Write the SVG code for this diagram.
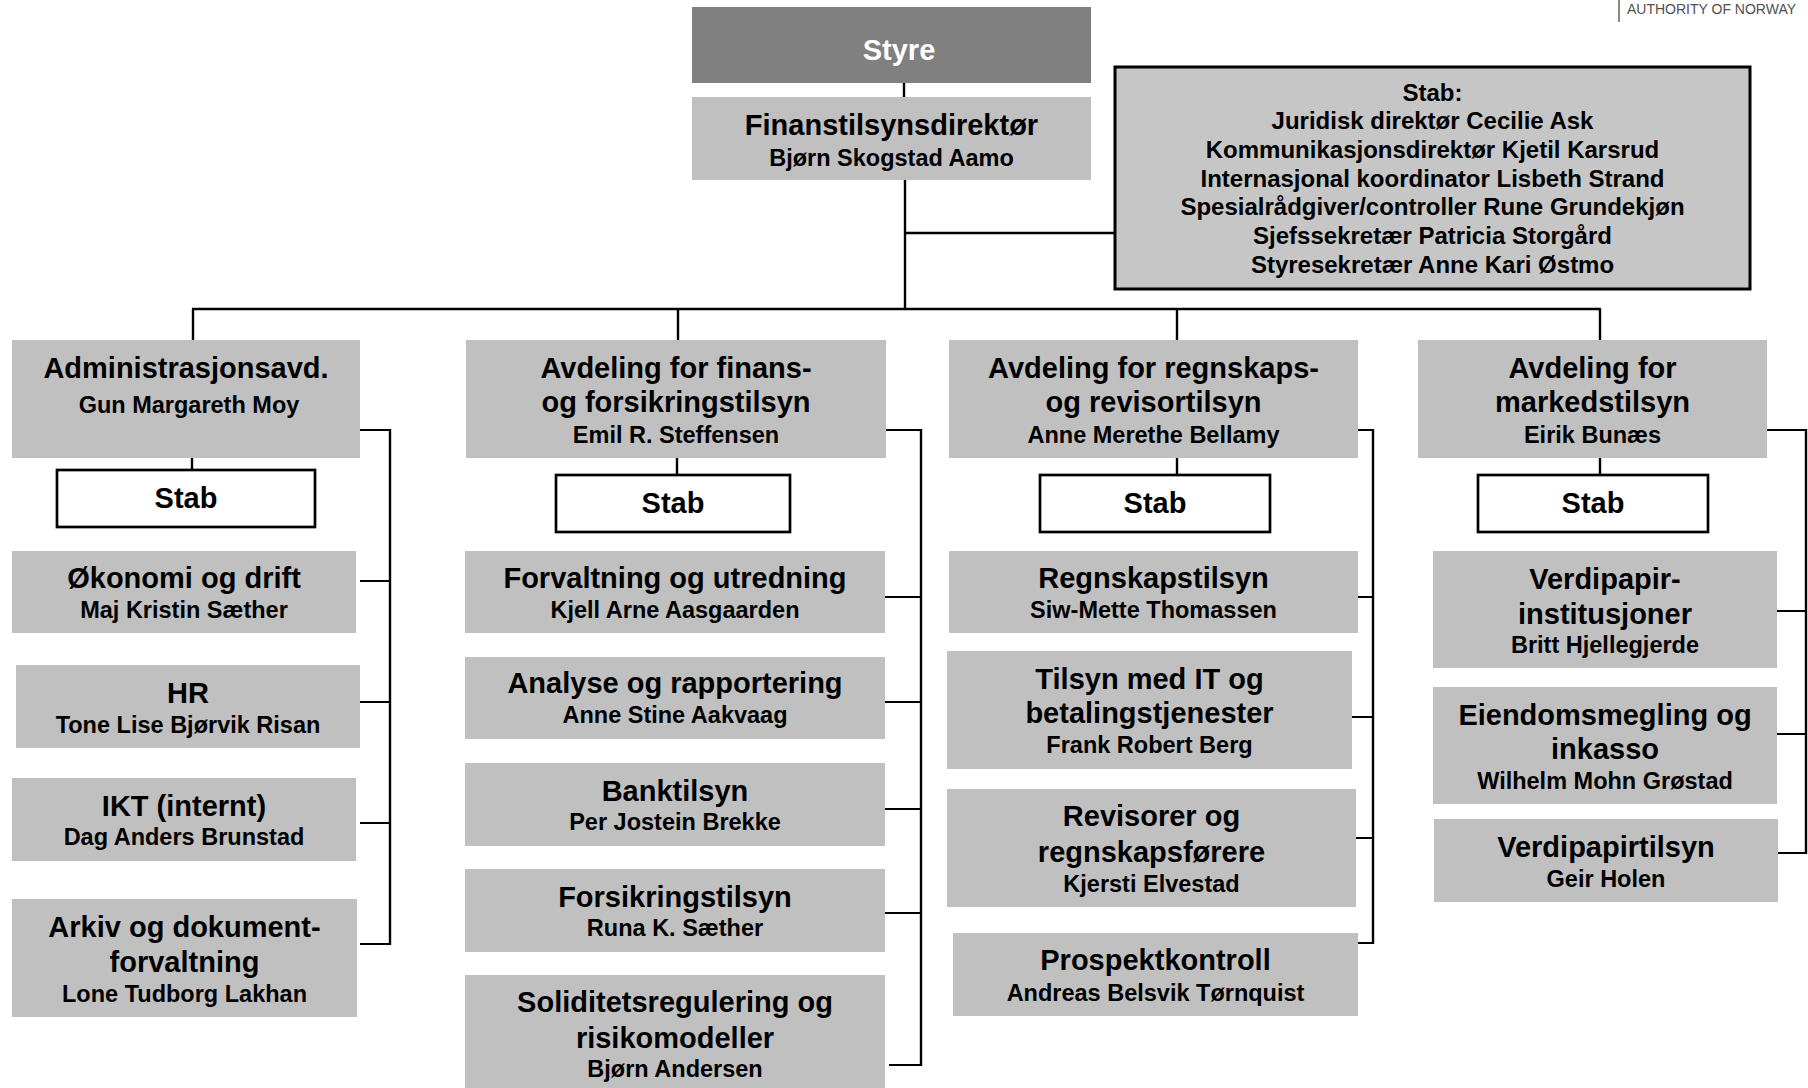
<svg xmlns="http://www.w3.org/2000/svg" width="1808" height="1088" viewBox="0 0 1808 1088">
<style>
  .box { fill: #c0c0c0; }
  .dark { fill: #808080; }
  .stabbox { fill: #ffffff; stroke: #000000; stroke-width: 2.7; }
  .bigstab { fill: #c6c6c6; stroke: #000000; stroke-width: 3; }
  .t { font-family: "Liberation Sans", Arial, sans-serif; font-weight: bold; font-size: 29px; fill: #000000; text-anchor: middle; }
  .n { font-family: "Liberation Sans", Arial, sans-serif; font-weight: bold; font-size: 23.5px; fill: #000000; text-anchor: middle; }
  .s { font-family: "Liberation Sans", Arial, sans-serif; font-weight: bold; font-size: 24px; fill: #000000; text-anchor: middle; }
  .w { fill: #ffffff; }
  .ln { stroke: #000000; stroke-width: 2.4; fill: none; }
  .tk { stroke: #000000; stroke-width: 2; fill: none; }
  .logo { font-family: "Liberation Sans", Arial, sans-serif; font-size: 14px; fill: #505050; }
</style>
<rect x="0" y="0" width="1808" height="1088" fill="#ffffff"/>

<g id="logo">
  <line x1="1619" y1="0" x2="1619" y2="22" stroke="#606060" stroke-width="1.5"/>
  <text class="logo" x="1627" y="14">AUTHORITY OF NORWAY</text>
</g>

<g id="connectors">
  <line class="ln" x1="904" y1="83" x2="904" y2="97"/>
  <line class="ln" x1="905" y1="180" x2="905" y2="309"/>
  <line class="ln" x1="905" y1="233" x2="1115" y2="233"/>
  <line class="ln" x1="192" y1="309" x2="1601" y2="309"/>
  <line class="ln" x1="193" y1="309" x2="193" y2="340"/>
  <line class="ln" x1="678" y1="309" x2="678" y2="340"/>
  <line class="ln" x1="1177" y1="309" x2="1177" y2="340"/>
  <line class="ln" x1="1600" y1="309" x2="1600" y2="340"/>
  <line class="ln" x1="192" y1="458" x2="192" y2="470"/>
  <line class="ln" x1="677" y1="458" x2="677" y2="475"/>
  <line class="ln" x1="1177" y1="458" x2="1177" y2="475"/>
  <line class="ln" x1="1600" y1="458" x2="1600" y2="475"/>
  <!-- admin bracket -->
  <line class="ln" x1="390" y1="429" x2="390" y2="945"/>
  <line class="tk" x1="360" y1="430" x2="391" y2="430"/>
  <line class="tk" x1="360" y1="581" x2="391" y2="581"/>
  <line class="tk" x1="360" y1="702" x2="391" y2="702"/>
  <line class="tk" x1="360" y1="823" x2="391" y2="823"/>
  <line class="tk" x1="360" y1="944" x2="391" y2="944"/>
  <!-- finans bracket -->
  <line class="ln" x1="921" y1="429" x2="921" y2="1066"/>
  <line class="tk" x1="886" y1="430" x2="922" y2="430"/>
  <line class="tk" x1="885" y1="597" x2="922" y2="597"/>
  <line class="tk" x1="885" y1="702" x2="922" y2="702"/>
  <line class="tk" x1="885" y1="809" x2="922" y2="809"/>
  <line class="tk" x1="885" y1="913" x2="922" y2="913"/>
  <line class="tk" x1="889" y1="1065" x2="922" y2="1065"/>
  <!-- regnskap bracket -->
  <line class="ln" x1="1373" y1="429" x2="1373" y2="944"/>
  <line class="tk" x1="1358" y1="430" x2="1374" y2="430"/>
  <line class="tk" x1="1358" y1="597" x2="1374" y2="597"/>
  <line class="tk" x1="1352" y1="717" x2="1374" y2="717"/>
  <line class="tk" x1="1356" y1="838" x2="1374" y2="838"/>
  <line class="tk" x1="1358" y1="943" x2="1374" y2="943"/>
  <!-- marked bracket -->
  <line class="ln" x1="1806" y1="429" x2="1806" y2="854"/>
  <line class="tk" x1="1767" y1="430" x2="1807" y2="430"/>
  <line class="tk" x1="1777" y1="611" x2="1807" y2="611"/>
  <line class="tk" x1="1777" y1="734" x2="1807" y2="734"/>
  <line class="tk" x1="1778" y1="853" x2="1807" y2="853"/>
</g>

<g id="styre">
  <rect class="dark" x="692" y="7" width="399" height="76"/>
  <text class="t w" x="899" y="60">Styre</text>
</g>

<g id="direktor">
  <rect class="box" x="692" y="97" width="399" height="83"/>
  <text class="t" x="891.5" y="135">Finanstilsynsdirektør</text>
  <text class="n" x="891.5" y="166">Bjørn Skogstad Aamo</text>
</g>

<g id="stab-top">
  <rect class="bigstab" x="1115" y="67" width="635" height="222"/>
  <text class="s" x="1432.5" y="100.5">Stab:</text>
  <text class="s" x="1432.5" y="129.3">Juridisk direktør Cecilie Ask</text>
  <text class="s" x="1432.5" y="158">Kommunikasjonsdirektør Kjetil Karsrud</text>
  <text class="s" x="1432.5" y="186.7">Internasjonal koordinator Lisbeth Strand</text>
  <text class="s" x="1432.5" y="215.4">Spesialrådgiver/controller Rune Grundekjøn</text>
  <text class="s" x="1432.5" y="244">Sjefssekretær Patricia Storgård</text>
  <text class="s" x="1432.5" y="272.7">Styresekretær Anne Kari Østmo</text>
</g>

<!-- Administrasjon -->
<g id="admin">
  <rect class="box" x="12" y="340" width="348" height="118"/>
  <text class="t" x="186" y="378">Administrasjonsavd.</text>
  <text class="n" x="189" y="413">Gun Margareth Moy</text>
</g>
<g id="admin-stab">
  <rect class="stabbox" x="57" y="470" width="258" height="57"/>
  <text class="t" x="186" y="508">Stab</text>
</g>
<g id="okonomi">
  <rect class="box" x="12" y="551" width="344" height="82"/>
  <text class="t" x="184" y="588">Økonomi og drift</text>
  <text class="n" x="184" y="618">Maj Kristin Sæther</text>
</g>
<g id="hr">
  <rect class="box" x="16" y="665" width="344" height="83"/>
  <text class="t" x="188" y="703">HR</text>
  <text class="n" x="188" y="733">Tone Lise Bjørvik Risan</text>
</g>
<g id="ikt">
  <rect class="box" x="12" y="778" width="344" height="83"/>
  <text class="t" x="184" y="816">IKT (internt)</text>
  <text class="n" x="184" y="845">Dag Anders Brunstad</text>
</g>
<g id="arkiv">
  <rect class="box" x="12" y="899" width="345" height="118"/>
  <text class="t" x="184.5" y="937">Arkiv og dokument-</text>
  <text class="t" x="184.5" y="972">forvaltning</text>
  <text class="n" x="184.5" y="1002">Lone Tudborg Lakhan</text>
</g>

<!-- Finans -->
<g id="finans">
  <rect class="box" x="466" y="340" width="420" height="118"/>
  <text class="t" x="676" y="378">Avdeling for finans-</text>
  <text class="t" x="676" y="412">og forsikringstilsyn</text>
  <text class="n" x="676" y="443">Emil R. Steffensen</text>
</g>
<g id="finans-stab">
  <rect class="stabbox" x="556" y="475" width="234" height="57"/>
  <text class="t" x="673" y="513">Stab</text>
</g>
<g id="forvaltning">
  <rect class="box" x="465" y="551" width="420" height="82"/>
  <text class="t" x="675" y="588">Forvaltning og utredning</text>
  <text class="n" x="675" y="618">Kjell Arne Aasgaarden</text>
</g>
<g id="analyse">
  <rect class="box" x="465" y="657" width="420" height="82"/>
  <text class="t" x="675" y="693">Analyse og rapportering</text>
  <text class="n" x="675" y="723">Anne Stine Aakvaag</text>
</g>
<g id="bank">
  <rect class="box" x="465" y="763" width="420" height="83"/>
  <text class="t" x="675" y="801">Banktilsyn</text>
  <text class="n" x="675" y="830">Per Jostein Brekke</text>
</g>
<g id="forsikring">
  <rect class="box" x="465" y="869" width="420" height="83"/>
  <text class="t" x="675" y="907">Forsikringstilsyn</text>
  <text class="n" x="675" y="936">Runa K. Sæther</text>
</g>
<g id="soliditet">
  <rect class="box" x="465" y="975" width="420" height="118"/>
  <text class="t" x="675" y="1012">Soliditetsregulering og</text>
  <text class="t" x="675" y="1048">risikomodeller</text>
  <text class="n" x="675" y="1077">Bjørn Andersen</text>
</g>

<!-- Regnskap -->
<g id="regnskap">
  <rect class="box" x="949" y="340" width="409" height="118"/>
  <text class="t" x="1153.5" y="378">Avdeling for regnskaps-</text>
  <text class="t" x="1153.5" y="412">og revisortilsyn</text>
  <text class="n" x="1153.5" y="443">Anne Merethe Bellamy</text>
</g>
<g id="regnskap-stab">
  <rect class="stabbox" x="1040" y="475" width="230" height="57"/>
  <text class="t" x="1155" y="513">Stab</text>
</g>
<g id="regnskapstilsyn">
  <rect class="box" x="949" y="551" width="409" height="82"/>
  <text class="t" x="1153.5" y="588">Regnskapstilsyn</text>
  <text class="n" x="1153.5" y="618">Siw-Mette Thomassen</text>
</g>
<g id="it">
  <rect class="box" x="947" y="651" width="405" height="118"/>
  <text class="t" x="1149.5" y="689">Tilsyn med IT og</text>
  <text class="t" x="1149.5" y="723">betalingstjenester</text>
  <text class="n" x="1149.5" y="753">Frank Robert Berg</text>
</g>
<g id="revisorer">
  <rect class="box" x="947" y="789" width="409" height="118"/>
  <text class="t" x="1151.5" y="826">Revisorer og</text>
  <text class="t" x="1151.5" y="862">regnskapsførere</text>
  <text class="n" x="1151.5" y="892">Kjersti Elvestad</text>
</g>
<g id="prospekt">
  <rect class="box" x="953" y="933" width="405" height="83"/>
  <text class="t" x="1155.5" y="970">Prospektkontroll</text>
  <text class="n" x="1155.5" y="1001">Andreas Belsvik Tørnquist</text>
</g>

<!-- Marked -->
<g id="marked">
  <rect class="box" x="1418" y="340" width="349" height="118"/>
  <text class="t" x="1592.5" y="378">Avdeling for</text>
  <text class="t" x="1592.5" y="412">markedstilsyn</text>
  <text class="n" x="1592.5" y="443">Eirik Bunæs</text>
</g>
<g id="marked-stab">
  <rect class="stabbox" x="1478" y="475" width="230" height="57"/>
  <text class="t" x="1593" y="513">Stab</text>
</g>
<g id="verdipapirinst">
  <rect class="box" x="1433" y="551" width="344" height="117"/>
  <text class="t" x="1605" y="589">Verdipapir-</text>
  <text class="t" x="1605" y="624">institusjoner</text>
  <text class="n" x="1605" y="653">Britt Hjellegjerde</text>
</g>
<g id="eiendom">
  <rect class="box" x="1433" y="687" width="344" height="117"/>
  <text class="t" x="1605" y="725">Eiendomsmegling og</text>
  <text class="t" x="1605" y="759">inkasso</text>
  <text class="n" x="1605" y="789">Wilhelm Mohn Grøstad</text>
</g>
<g id="verdipapirtilsyn">
  <rect class="box" x="1434" y="819" width="344" height="83"/>
  <text class="t" x="1606" y="857">Verdipapirtilsyn</text>
  <text class="n" x="1606" y="887">Geir Holen</text>
</g>
</svg>
